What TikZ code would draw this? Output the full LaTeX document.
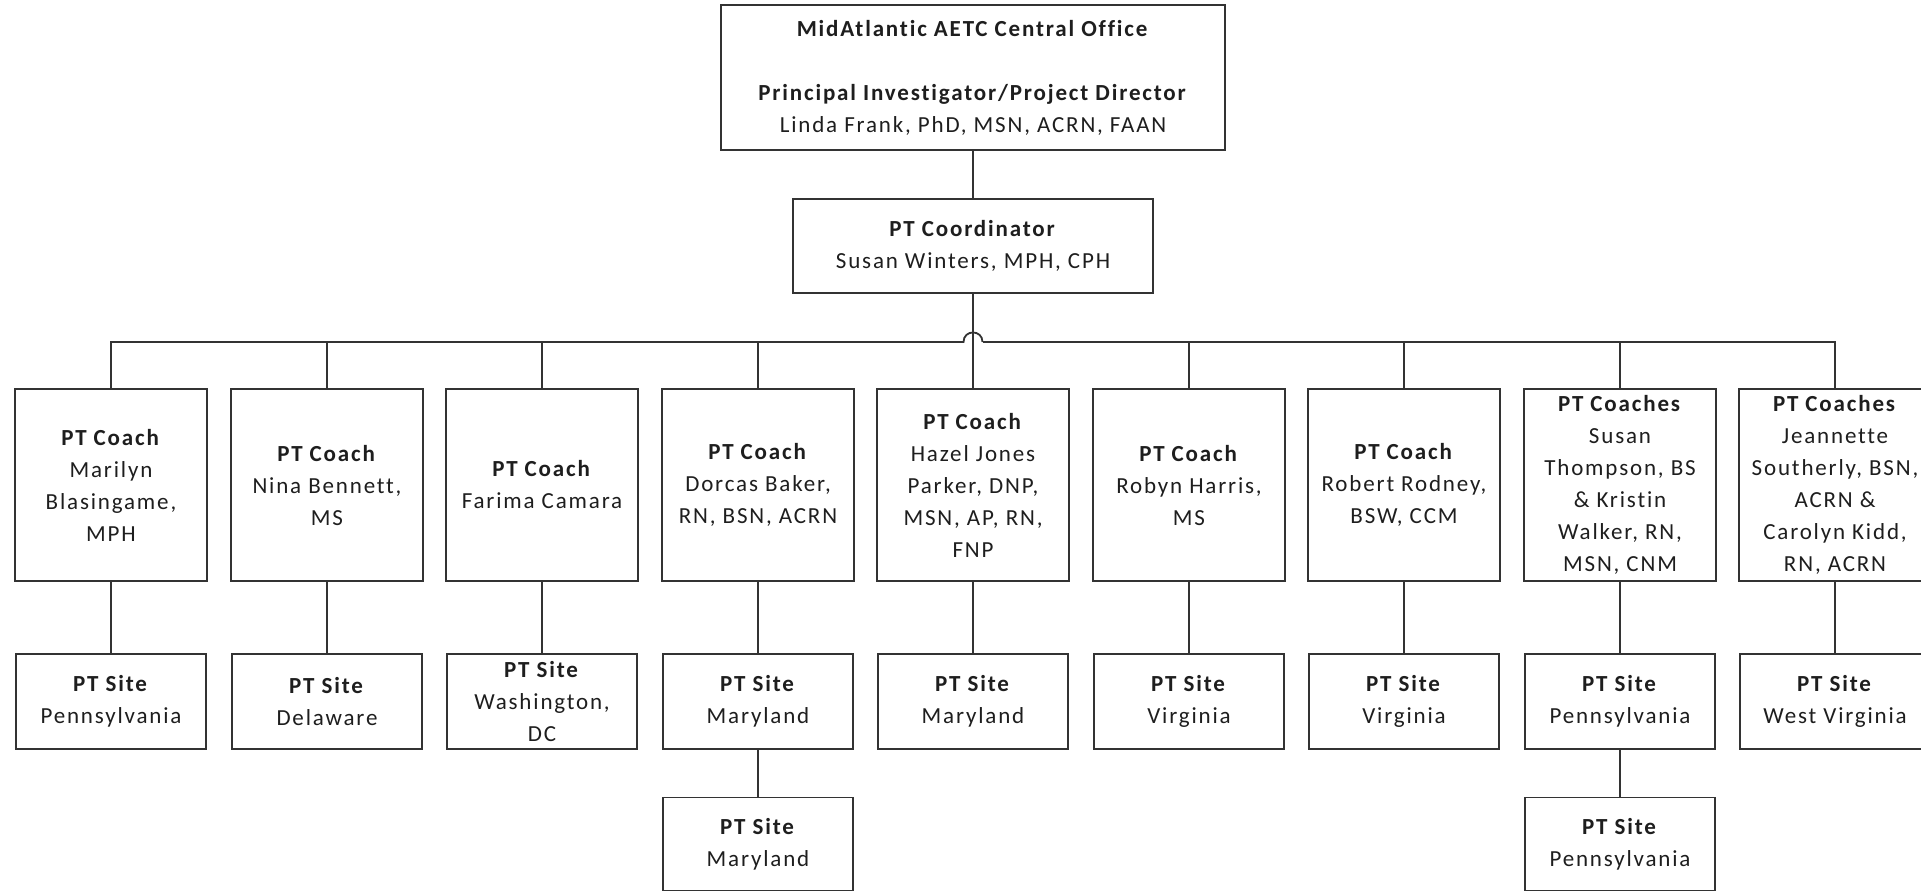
\documentclass[tikz,border=0pt]{standalone}
\usepackage{fontspec}
\usetikzlibrary{calc}
\newfontfamily\boxfont[LetterSpace=8, Ligatures={NoCommon}]{Carlito}
\definecolor{linec}{HTML}{333333}
\definecolor{textc}{HTML}{1E1E1E}
\tikzset{
  box/.style={draw=linec, line width=1.8pt, fill=white, align=center, inner sep=0pt,
    text=textc, font=\boxfont\fontsize{23}{32}\selectfont},
  coachbox/.style={box, minimum width=192pt, minimum height=192pt},
  sitebox/.style={box, minimum width=190pt, minimum height=95pt},
  conn/.style={draw=linec, line width=1.8pt},
  thickconn/.style={draw=linec, line width=2.6pt},
}
\begin{document}
\begin{tikzpicture}[x=1pt, y=-1pt]
\fill[white] (0,0) rectangle (1921,892);
\useasboundingbox (0,0) rectangle (1921,892);
\clip (0,0) rectangle (1921,892);

% top levels
\node[box, minimum width=504pt, minimum height=145pt] (top) at (973,77.5)
  {\textbf{MidAtlantic AETC Central Office}\\[32pt]\textbf{Principal Investigator/Project Director}\\Linda Frank, PhD, MSN, ACRN, FAAN};
\node[box, minimum width=360pt, minimum height=94pt] (coord) at (973,246)
  {\textbf{PT Coordinator}\\Susan Winters, MPH, CPH};

% coaches
\node[coachbox] (c1) at (111,485) {\textbf{PT Coach}\\Marilyn\\Blasingame,\\MPH};
\node[coachbox] (c2) at (327,485) {\textbf{PT Coach}\\Nina Bennett,\\MS};
\node[coachbox] (c3) at (542,485) {\textbf{PT Coach}\\Farima Camara};
\node[coachbox] (c4) at (758,485) {\textbf{PT Coach}\\Dorcas Baker,\\RN, BSN, ACRN};
\node[coachbox] (c5) at (973,485) {\textbf{PT Coach}\\Hazel Jones\\Parker, DNP,\\MSN, AP, RN,\\FNP};
\node[coachbox] (c6) at (1189,485) {\textbf{PT Coach}\\Robyn Harris,\\MS};
\node[coachbox] (c7) at (1404,485) {\textbf{PT Coach}\\Robert Rodney,\\BSW, CCM};
\node[coachbox] (c8) at (1620,485) {\textbf{PT Coaches}\\Susan\\Thompson, BS\\\& Kristin\\Walker, RN,\\MSN, CNM};
\node[coachbox] (c9) at (1835,485) {\textbf{PT Coaches}\\Jeannette\\Southerly, BSN,\\ACRN \&\\Carolyn Kidd,\\RN, ACRN};

% sites row 1
\node[sitebox] (s1) at (111,701.5) {\textbf{PT Site}\\Pennsylvania};
\node[sitebox] (s2) at (327,701.5) {\textbf{PT Site}\\Delaware};
\node[sitebox] (s3) at (542,701.5) {\textbf{PT Site}\\Washington,\\DC};
\node[sitebox] (s4) at (758,701.5) {\textbf{PT Site}\\Maryland};
\node[sitebox] (s5) at (973,701.5) {\textbf{PT Site}\\Maryland};
\node[sitebox] (s6) at (1189,701.5) {\textbf{PT Site}\\Virginia};
\node[sitebox] (s7) at (1404,701.5) {\textbf{PT Site}\\Virginia};
\node[sitebox] (s8) at (1620,701.5) {\textbf{PT Site}\\Pennsylvania};
\node[sitebox] (s9) at (1835,701.5) {\textbf{PT Site}\\West Virginia};

% sites row 2
\node[sitebox, minimum height=93pt] (t4) at (758,844) {\textbf{PT Site}\\Maryland};
\node[sitebox, minimum height=93pt] (t8) at (1620,844) {\textbf{PT Site}\\Pennsylvania};

% connectors
\coordinate (hopL) at (963.5,342);
\coordinate (hopR) at (982.5,342);
\coordinate (thickend) at (1308,342);
\draw[conn] (top) -- (coord);
\draw[conn] (coord.south) -- (c5.north);
\draw[conn] (c1.north) |- (hopL) .. controls ($(hopL)+(0,-12.7)$) and ($(hopR)+(0,-12.7)$) .. (hopR);
\draw[thickconn] (hopR) -- (thickend);
\draw[conn] (thickend) -| (c9.north);
\foreach \i in {2,3,4,6,7,8} {
  \draw[conn] (c\i.north) -- (c\i.north |- hopL);
}
\foreach \i in {1,...,9} {
  \draw[conn] (c\i) -- (s\i);
}
\draw[conn] (s4) -- (t4);
\draw[conn] (s8) -- (t8);
\end{tikzpicture}
\end{document}
